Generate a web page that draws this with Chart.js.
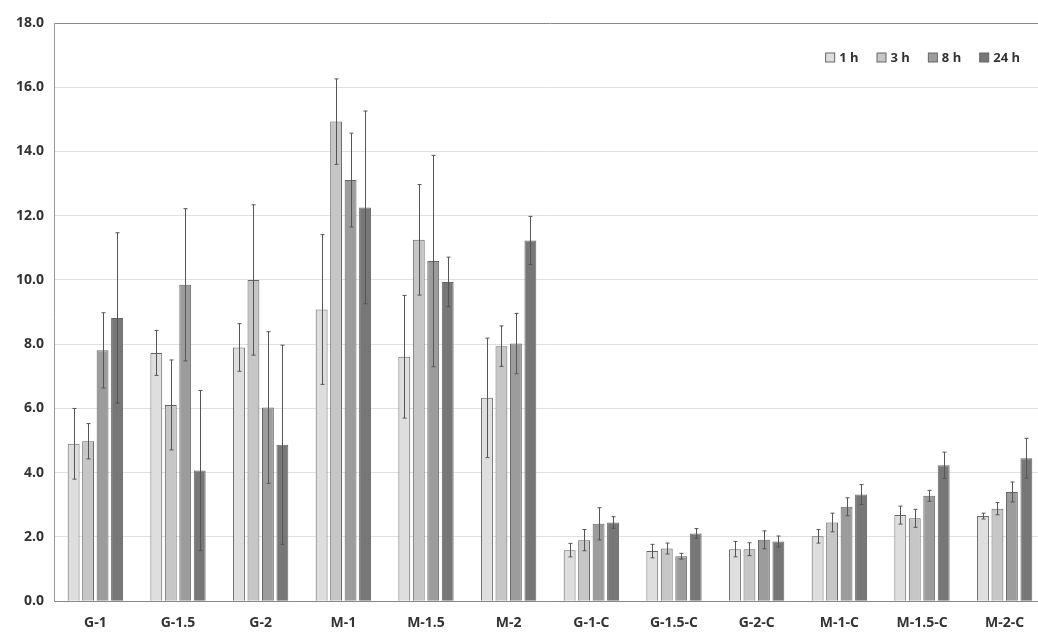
<!DOCTYPE html>
<html>
<head>
<meta charset="utf-8">
<script src="https://cdn.jsdelivr.net/npm/chart.js@4.4.1/dist/chart.umd.min.js"></script>
<style>
  html, body { margin: 0; padding: 0; background: #fff; overflow: hidden; }
  #wrap { width: 1050px; height: 636px; }
</style>
</head>
<body>
<div id="wrap"><canvas id="chart"></canvas></div>
<script>
const categories = ["G-1", "G-1.5", "G-2", "M-1", "M-1.5", "M-2",
  "G-1-C", "G-1.5-C", "G-2-C", "M-1-C", "M-1.5-C", "M-2-C"];
const seriesNames = ["1 h", "3 h", "8 h", "24 h"];

const mean1h  = [4.90, 7.73, 7.90, 9.08, 7.61, 6.33, 1.59, 1.56, 1.62, 2.02, 2.68, 2.65];
const mean3h  = [4.98, 6.11, 10.00, 14.93, 11.25, 7.94, 1.90, 1.64, 1.62, 2.45, 2.58, 2.88];
const mean8h  = [7.81, 9.85, 6.03, 13.11, 10.59, 8.02, 2.41, 1.40, 1.91, 2.94, 3.28, 3.40];
const mean24h = [8.82, 4.07, 4.87, 12.26, 9.94, 11.23, 2.45, 2.11, 1.86, 3.32, 4.23, 4.45];

const err1h  = [1.10, 0.70, 0.74, 2.33, 1.91, 1.86, 0.21, 0.21, 0.24, 0.21, 0.28, 0.09];
const err3h  = [0.55, 1.40, 2.34, 1.33, 1.72, 0.63, 0.33, 0.17, 0.20, 0.29, 0.28, 0.19];
const err8h  = [1.17, 2.37, 2.36, 1.46, 3.29, 0.94, 0.50, 0.09, 0.28, 0.28, 0.17, 0.31];
const err24h = [2.65, 2.49, 3.10, 3.00, 0.77, 0.75, 0.18, 0.15, 0.17, 0.31, 0.41, 0.62];

const fills = ["#dedede", "#c6c6c6", "#9c9c9c", "#777777"];
const means = [mean1h, mean3h, mean8h, mean24h];
const errs = [err1h, err3h, err8h, err24h];

const errorBars = {
  id: "errorBars",
  afterDatasetsDraw(chart) {
    const ctx = chart.ctx;
    const y = chart.scales.y;
    ctx.save();
    ctx.strokeStyle = "#555";
    ctx.lineWidth = 1;
    chart.data.datasets.forEach((ds, di) => {
      const meta = chart.getDatasetMeta(di);
      meta.data.forEach((bar, i) => {
        const v = ds.data[i], e = ds.errors[i];
        const x = Math.round(bar.x) + 0.5;
        const top = y.getPixelForValue(v + e);
        const bot = y.getPixelForValue(v - e);
        ctx.beginPath();
        ctx.moveTo(x, top); ctx.lineTo(x, bot);
        ctx.moveTo(x - 2, top); ctx.lineTo(x + 2, top);
        ctx.moveTo(x - 2, bot); ctx.lineTo(x + 2, bot);
        ctx.stroke();
      });
    });
    ctx.restore();
  }
};

// legend drawn inside the plot, top right
const innerLegend = {
  id: "innerLegend",
  afterDraw(chart) {
    const ctx = chart.ctx;
    const area = chart.chartArea;
    ctx.save();
    ctx.font = "bold 13px 'Open Sans', sans-serif";
    ctx.textBaseline = "middle";
    const gap = 18, box = 9;
    const items = chart.data.datasets.map(ds => ({
      label: ds.label, color: ds.backgroundColor,
      w: box + 5 + ctx.measureText(ds.label).width
    }));
    let x = area.right - 26 - items.reduce((s, it) => s + it.w, 0) - gap * (items.length - 1);
    const yMid = area.top + 34;
    items.forEach(it => {
      ctx.fillStyle = it.color;
      ctx.fillRect(x + 0.5, yMid - box / 2 + 0.5, box, box);
      ctx.strokeStyle = "#666";
      ctx.lineWidth = 1;
      ctx.strokeRect(x + 0.5, yMid - box / 2 + 0.5, box, box);
      ctx.fillStyle = "#333";
      ctx.fillText(it.label, x + box + 5, yMid + 1);
      x += it.w + gap;
    });
    ctx.restore();
  }
};

const font = { family: "'Open Sans', sans-serif", weight: "bold", size: 14 };

new Chart(document.getElementById("chart"), {
  type: "bar",
  data: {
    labels: categories,
    datasets: seriesNames.map((name, i) => ({
      label: name,
      data: means[i],
      errors: errs[i],
      backgroundColor: fills[i],
      borderColor: "#666",
      borderWidth: 1,
      categoryPercentage: 0.7,
      barPercentage: 0.82
    }))
  },
  options: {
    responsive: true,
    maintainAspectRatio: false,
    animation: false,
    layout: { padding: { top: 23, right: 4, left: 6, bottom: 0 } },
    plugins: {
      tooltip: { enabled: false },
      legend: { display: false }
    },
    scales: {
      x: {
        grid: { display: false },
        border: { color: "#888" },
        ticks: { color: "#333", font: font, padding: 5 }
      },
      y: {
        min: 0,
        max: 18,
        ticks: {
          stepSize: 2,
          color: "#333",
          font: font,
          padding: 10,
          callback: v => v.toFixed(1)
        },
        grid: {
          color: ctx => ctx.tick && ctx.tick.value === 18 ? "#888" : "#e0e0e0",
          drawTicks: false
        },
        border: { color: "#999" }
      }
    }
  },
  plugins: [errorBars, innerLegend]
});
</script>
</body>
</html>
